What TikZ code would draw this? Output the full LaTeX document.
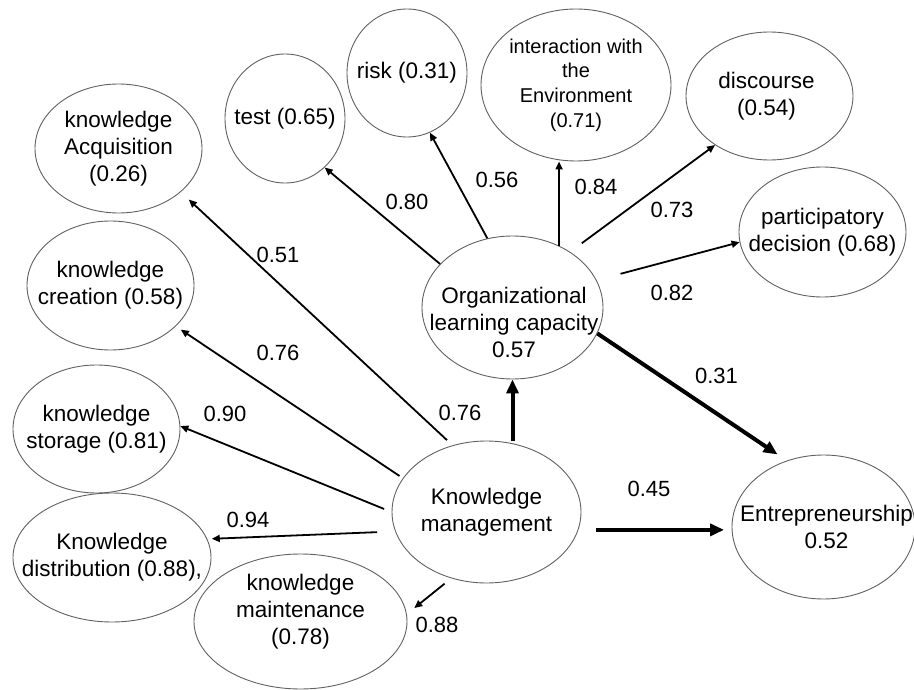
\documentclass[tikz,border=0pt]{standalone}
\usepackage{fontspec}
\setmainfont{Liberation Sans}
\usetikzlibrary{arrows.meta,shapes.geometric}
\begin{document}
\begin{tikzpicture}[x=1pt,y=-1pt,
  ell/.style={ellipse, draw=black!62, line width=0.9pt, inner sep=0pt},
  lab/.style={align=center, inner sep=0pt, font=\fontsize{22.5}{27}\selectfont},
  smalllab/.style={align=center, inner sep=0pt, font=\fontsize{20}{24.7}\selectfont},
  thinarr/.style={line width=1.8pt, -{Triangle[length=8pt,width=7pt]}},
  thickarr/.style={line width=4pt, -{Triangle[length=14pt,width=12pt]}},
  num/.style={font=\fontsize{22}{26}\selectfont, inner sep=0pt}
]
\useasboundingbox (0,0) rectangle (914,690);
\fill[white] (0,0) rectangle (914,690);

% concept ellipses (text placed at the centre as a label)
\node[ell, minimum width=120pt, minimum height=129pt, label={[lab]center:{test (0.65)}}] (test) at (285,118.5) {};
\node[ell, minimum width=120pt, minimum height=128pt, label={[lab]center:{risk (0.31)}}] (risk) at (407,73) {};
\node[ell, minimum width=167pt, minimum height=129pt, label={[lab]center:{knowledge\\Acquisition\\(0.26)}}] (acq) at (118.5,148.5) {};
\node[ell, minimum width=167pt, minimum height=129pt, label={[lab]center:{knowledge\\creation (0.58)}}] (cre) at (110.5,285.5) {};
\node[ell, minimum width=167pt, minimum height=128pt, label={[lab]center:{knowledge\\storage (0.81)}}] (sto) at (96.5,429) {};
\node[ell, minimum width=198pt, minimum height=129pt, label={[lab]center:{Knowledge\\distribution (0.88),}}] (dis) at (112,557.5) {};
\node[ell, minimum width=213pt, minimum height=135pt, label={[lab, yshift=10pt]center:{knowledge\\maintenance\\(0.78)}}] (mai) at (300.5,621.5) {};
\node[ell, minimum width=189pt, minimum height=142pt, label={[lab]center:{Knowledge\\management}}] (km) at (486.5,512) {};
\node[ell, minimum width=181pt, minimum height=143pt, label={[lab, yshift=-14.5pt, xshift=1.5pt]center:{Organizational\\learning capacity\\0.57}}] (olc) at (512.5,307.5) {};
\node[ell, minimum width=190pt, minimum height=152pt, label={[smalllab]center:{interaction with\\the\\Environment\\(0.71)}}] (int) at (576,85) {};
\node[ell, minimum width=167pt, minimum height=128pt, label={[lab, xshift=-3pt]center:{discourse\\(0.54)}}] (disc) at (769.5,96) {};
\node[ell, minimum width=167pt, minimum height=130pt, label={[lab]center:{participatory\\decision (0.68)}}] (part) at (822.5,232) {};
\node[ell, minimum width=183pt, minimum height=144pt, label={[lab, xshift=3pt]center:{Entrepreneurship\\0.52}}] (ent) at (823.5,527) {};

% connectors from organizational learning capacity
\draw[thinarr] (olc.149) -- (test.309);
\draw[thinarr] (olc.110) -- (risk.291);
\draw[thinarr] (olc.53) -- (olc.53 |- int.south);
\draw[thinarr, shorten <=14.5pt] (olc.44) -- (disc.222);
\draw[thinarr, shorten <=24.7pt] (olc.18.6) -- (part.187);
\draw[thickarr, shorten >=11pt] (olc.343) -- (ent.119.3);

% connectors from knowledge management
\draw[thickarr] (olc.south |- km.north) -- (olc.south);
\draw[thickarr, shorten <=18pt, shorten >=7.5pt] (km.-11.7) -- (km.-11.7 -| ent.west);
\draw[thinarr, shorten <=7.5pt, shorten >=11pt] (km.117.9) -- (acq.325);
\draw[thinarr, shorten <=4pt, shorten >=6pt] (km.158.9) -- (cre.328.6);
\draw[thinarr, shorten <=8pt] (km.180) -- (sto.2);
\draw[thinarr, shorten <=18pt, shorten >=4.5pt] (km.192.4) -- (dis.11.4);
\draw[thinarr, shorten <=8.5pt, shorten >=9.6pt] (km.242.2) -- (mai.4.5);

% coefficients
\node[num] (n51) at (278,255) {0.51};
\node[num] (n80) at (407,202) {0.80};
\node[num] (n56) at (497,180) {0.56};
\node[num] (n84) at (596,187) {0.84};
\node[num] (n73) at (672,210) {0.73};
\node[num] (n82) at (672,293) {0.82};
\node[num] (n31) at (716.5,375.5) {0.31};
\node[num] (n45) at (649,489) {0.45};
\node[num] (n76a) at (278,353) {0.76};
\node[num] (n76b) at (460,413) {0.76};
\node[num] (n90) at (225,414) {0.90};
\node[num] (n94) at (248,520) {0.94};
\node[num] (n88) at (437,625) {0.88};
\end{tikzpicture}
\end{document}
